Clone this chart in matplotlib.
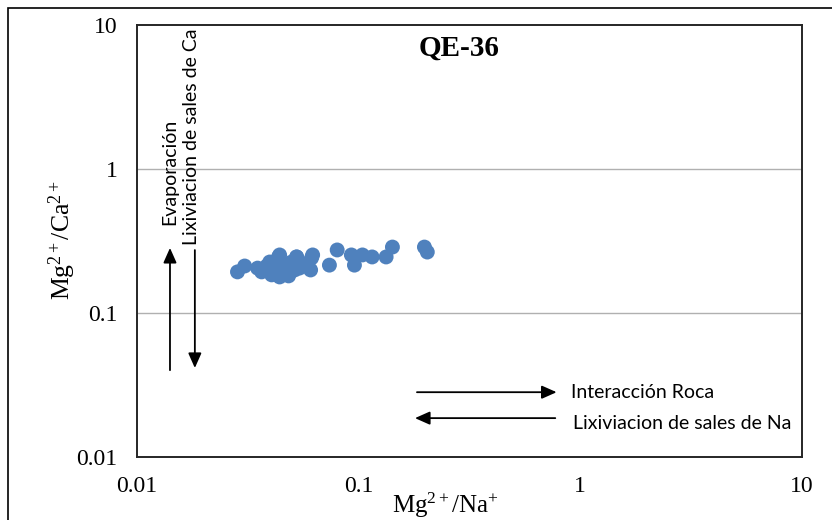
import matplotlib
matplotlib.use("Agg")
import matplotlib.pyplot as plt
from matplotlib.patches import Rectangle

# Mg/Na and Mg/Ca ratios for well QE-36
mg_na = [0.0284, 0.0306, 0.035, 0.0365, 0.0385, 0.0397, 0.0405, 0.0422, 0.0435,
         0.044, 0.044, 0.0454, 0.0468, 0.0483, 0.0498, 0.0514, 0.0525, 0.0525,
         0.054, 0.057, 0.0607, 0.062, 0.0613, 0.0738, 0.080, 0.0927, 0.0957,
         0.104, 0.115, 0.133, 0.142, 0.198, 0.204]
mg_ca = [0.193, 0.212, 0.205, 0.193, 0.212, 0.226, 0.184, 0.199, 0.245,
         0.178, 0.253, 0.215, 0.199, 0.181, 0.226, 0.199, 0.245, 0.245,
         0.205, 0.219, 0.199, 0.253, 0.241, 0.215, 0.274, 0.253, 0.215,
         0.253, 0.245, 0.245, 0.287, 0.287, 0.265]

x_ticks = [0.01, 0.1, 1, 10]
x_tick_labels = ["0.01", "0.1", "1", "10"]
y_ticks = [0.01, 0.1, 1, 10]
y_tick_labels = ["0.01", "0.1", "1", "10"]

serif = "Liberation Serif"
sans = "Lato"
plt.rcParams["mathtext.fontset"] = "custom"
plt.rcParams["mathtext.rm"] = serif
plt.rcParams["mathtext.it"] = serif + ":italic"
plt.rcParams["mathtext.bf"] = serif + ":bold"

fig = plt.figure(figsize=(8.32, 5.2), dpi=100)
W, H = 832, 520
ax = fig.add_axes([137 / W, 1 - 457 / H, 665 / W, 432 / H])

# outer chart frame
fig.patches.append(Rectangle((8 / W, -0.1), 1.2, 1 - 8 / H + 0.1,
                             transform=fig.transFigure, fill=False,
                             edgecolor="black", linewidth=1.2, zorder=0))

ax.set_xscale("log")
ax.set_yscale("log")
ax.set_xlim(0.01, 10)
ax.set_ylim(0.01, 10)

for yv in [0.1, 1]:
    ax.axhline(yv, color="#b0b0b0", linewidth=1.0, zorder=1)

ax.scatter(mg_na, mg_ca, s=115, color="#4F81BD", edgecolors="none", zorder=3)

ax.set_xticks(x_ticks)
ax.set_xticklabels(x_tick_labels, fontfamily=serif, fontsize=17)
ax.set_yticks(y_ticks)
ax.set_yticklabels(y_tick_labels, fontfamily=serif, fontsize=17)
ax.minorticks_off()
ax.tick_params(axis="both", length=0)
ax.tick_params(axis="x", pad=14)
ax.tick_params(axis="y", pad=14)

for sp in ax.spines.values():
    sp.set_color("#262626")
    sp.set_linewidth(1.4)

ax.set_xlabel(r"$\mathrm{Mg}^{2+}$/$\mathrm{Na}^{+}$", fontfamily=serif, fontsize=18)
ax.xaxis.set_label_coords(0.463, -0.111)
ax.xaxis.label.set_va("center")
ax.set_ylabel(r"$\mathrm{Mg}^{2+}$/$\mathrm{Ca}^{2+}$", fontfamily=serif, fontsize=18.5)
ax.yaxis.set_label_coords(-0.113, 0.502)
ax.yaxis.label.set_va("center")
ax.text(0.484, 0.947, "QE-36", transform=ax.transAxes, ha="center", va="center",
        fontfamily=serif, fontsize=21, fontweight="bold")

arrow = dict(arrowstyle="-|>,head_length=0.9,head_width=0.4", color="black",
             linewidth=1.3, shrinkA=0, shrinkB=0)
# vertical process arrows
ax.annotate("", xy=(0.0496, 0.484), xytext=(0.0496, 0.201),
            xycoords="axes fraction", arrowprops=arrow)
ax.annotate("", xy=(0.087, 0.206), xytext=(0.087, 0.479),
            xycoords="axes fraction", arrowprops=arrow)
ax.text(0.0496, 0.537, "Evaporación", transform=ax.transAxes, rotation=90,
        ha="center", va="bottom", fontfamily=sans, fontsize=14)
ax.text(0.0827, 0.491, "Lixiviacion de sales de Ca", transform=ax.transAxes,
        rotation=90, ha="center", va="bottom", fontfamily=sans, fontsize=14)

# horizontal process arrows
ax.annotate("", xy=(0.631, 0.150), xytext=(0.421, 0.150),
            xycoords="axes fraction", arrowprops=arrow)
ax.annotate("", xy=(0.418, 0.090), xytext=(0.629, 0.090),
            xycoords="axes fraction", arrowprops=arrow)
ax.text(0.652, 0.150, "Interacción Roca", transform=ax.transAxes,
        ha="left", va="center", fontfamily=sans, fontsize=14)
ax.text(0.655, 0.078, "Lixiviacion de sales de Na", transform=ax.transAxes,
        ha="left", va="center", fontfamily=sans, fontsize=14)

fig.savefig("out.png", dpi=100)
